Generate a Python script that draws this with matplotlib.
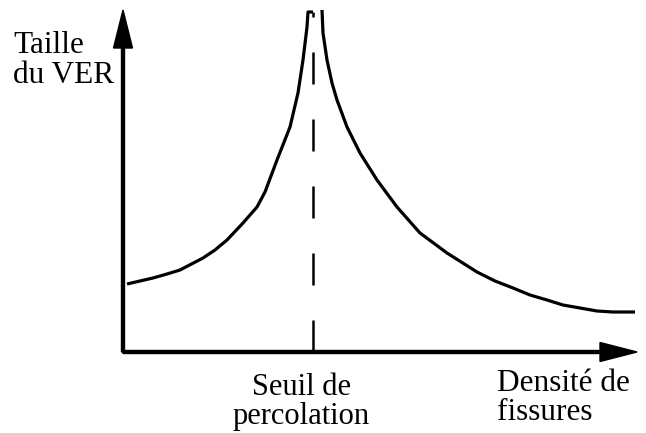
import matplotlib.pyplot as plt

# schematic: RVE size vs crack density (units ~ pixels from the origin)
seuil = 190  # percolation threshold position on the density axis

left_density = [4, 17, 30, 44, 57, 80, 92, 104, 120, 134, 142, 154, 167, 175,
                180, 184, 185, 190]
left_size = [68, 71, 74, 78, 82, 94, 102, 112, 129, 145, 160, 192, 225, 259,
             292, 325, 340, 340]

right_density = [199, 200, 204, 209, 214, 224, 237, 254, 274, 297, 324, 354,
                 372, 390, 407, 424, 440, 457, 474, 490, 512]
right_size = [342, 319, 292, 269, 252, 225, 199, 172, 145, 119, 99, 80,
              71, 64, 57, 52, 47, 44, 41, 40, 40]

ylabel_txt = "Taille\ndu VER"
xlabel_txt = "Densité de\nfissures"
seuil_txt = "Seuil de\npercolation"

plt.rcParams['font.family'] = ['Liberation Serif', 'DejaVu Serif']

fig = plt.figure(figsize=(6.46, 4.33), dpi=100)
W, H = 646, 433
ax = fig.add_axes([123 / W, 81 / H, 514 / W, 342 / H])
ax.set_xlim(0, 514)
ax.set_ylim(0, 342)
ax.axis('off')

# axes with arrows
ax.arrow(0, 0, 514, 0, width=3, head_width=19, head_length=37,
         length_includes_head=True, color='black', clip_on=False)
ax.arrow(0, 0, 0, 342, width=3, head_width=19, head_length=38,
         length_includes_head=True, color='black', clip_on=False)

# curve
ax.plot(left_density, left_size, color='black', lw=2.3, clip_on=False,
        solid_capstyle='butt', solid_joinstyle='round')
ax.plot(right_density, right_size, color='black', lw=2.3, clip_on=False,
        solid_capstyle='butt', solid_joinstyle='round')

# threshold
ax.plot([seuil, seuil], [0, 340], color='black', lw=1.8,
        dashes=(12.8, 14), clip_on=False)

fig.text(13 / W, 1 - 31 / H, ylabel_txt, fontsize=22.5, va='top', ha='left',
         linespacing=1.06)
fig.text(301 / W, 1 - 373 / H, seuil_txt, fontsize=22, va='top', ha='center',
         linespacing=1.0)
fig.text(497 / W, 1 - 369 / H, xlabel_txt, fontsize=22.5,
         va='top', ha='left', linespacing=1.0)

fig.savefig('out.png', dpi=100)
